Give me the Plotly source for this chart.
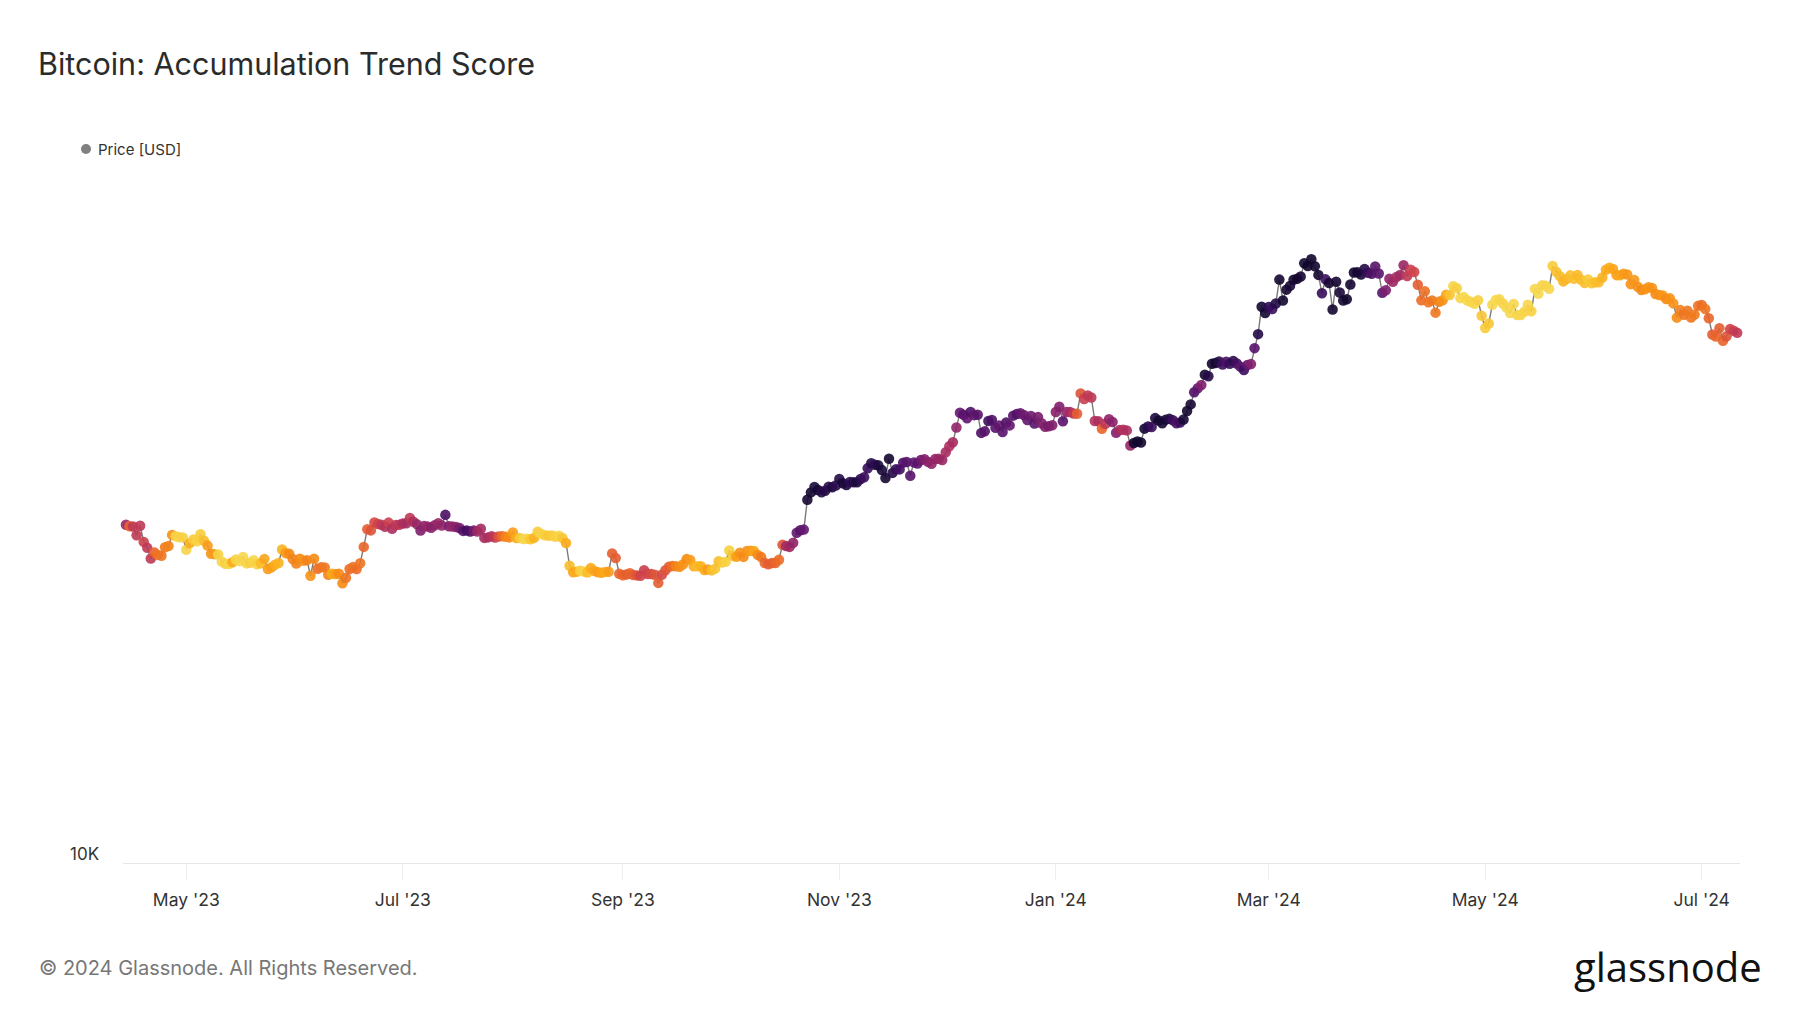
import pandas as pd
import plotly.graph_objects as go

# Daily BTC price (USD) and Accumulation Trend Score, 2023-04-13 .. 2024-07-11
apr23_price = [30400, 30480, 30320, 30300, 29430, 30380, 28800, 28240, 27270, 27820, 27590, 27510, 28300, 28420, 29470, 29340, 29250, 29230]
apr23_score = [0.66, 0.66, 0.40, 0.55, 0.55, 0.55, 0.52, 0.55, 0.55, 0.40, 0.36, 0.36, 0.34, 0.32, 0.28, 0.06, 0.06, 0.08]
may23_price = [28070, 28680, 29030, 28850, 29530, 28900, 28450, 27690, 27660, 27620, 26990, 26800, 26780, 26930, 27170, 27030, 27400, 26830, 26890, 27120, 26750, 26850, 27230, 26330, 26480, 26720, 26870, 28080, 27750, 27700, 27220]
may23_score = [0.06, 0.20, 0.10, 0.08, 0.10, 0.15, 0.25, 0.28, 0.25, 0.06, 0.05, 0.08, 0.05, 0.20, 0.06, 0.05, 0.05, 0.06, 0.08, 0.05, 0.08, 0.15, 0.22, 0.25, 0.24, 0.20, 0.18, 0.18, 0.25, 0.30, 0.32]
jun23_price = [26820, 27250, 27070, 27120, 25760, 27240, 26350, 26500, 26480, 25850, 25940, 25900, 25930, 25130, 25590, 26340, 26510, 26340, 26850, 28330, 30030, 29910, 30700, 30550, 30470, 30270, 30690, 30080, 30450, 30480]
jun23_score = [0.32, 0.30, 0.28, 0.32, 0.28, 0.30, 0.38, 0.36, 0.35, 0.32, 0.20, 0.25, 0.30, 0.30, 0.36, 0.38, 0.36, 0.38, 0.36, 0.40, 0.42, 0.45, 0.48, 0.50, 0.55, 0.58, 0.52, 0.60, 0.55, 0.56]
jul23_price = [30590, 30620, 31160, 30770, 30510, 29900, 30350, 30290, 30170, 30420, 30620, 30390, 31480, 30320, 30300, 30250, 30140, 29860, 29910, 29800, 29910, 29790, 30080, 29180, 29230, 29350, 29210, 29310, 29350, 29280, 29230]
jul23_score = [0.60, 0.62, 0.55, 0.60, 0.66, 0.72, 0.68, 0.66, 0.70, 0.70, 0.66, 0.68, 0.82, 0.72, 0.68, 0.70, 0.74, 0.80, 0.84, 0.82, 0.75, 0.65, 0.62, 0.62, 0.60, 0.58, 0.55, 0.45, 0.38, 0.32, 0.30]
aug23_price = [29710, 29170, 29180, 29070, 29090, 29050, 29180, 29770, 29580, 29430, 29400, 29420, 29280, 29400, 29170, 28700, 26620, 26050, 26100, 26190, 26120, 26040, 26430, 26160, 26060, 26010, 26090, 26100, 27730, 27300, 25930]
aug23_score = [0.25, 0.20, 0.10, 0.05, 0.05, 0.12, 0.18, 0.10, 0.06, 0.08, 0.12, 0.10, 0.08, 0.06, 0.12, 0.20, 0.15, 0.22, 0.20, 0.08, 0.06, 0.15, 0.20, 0.22, 0.25, 0.22, 0.20, 0.25, 0.42, 0.42, 0.40]
sep23_price = [25800, 25870, 25970, 25830, 25790, 25760, 26240, 25900, 25900, 25840, 25160, 25840, 26230, 26540, 26600, 26570, 26530, 26760, 27210, 27130, 26580, 26580, 26580, 26250, 26300, 26220, 26370, 27020, 26910, 26970]
sep23_score = [0.40, 0.42, 0.40, 0.42, 0.45, 0.50, 0.52, 0.50, 0.48, 0.45, 0.42, 0.48, 0.45, 0.42, 0.38, 0.32, 0.30, 0.28, 0.30, 0.25, 0.20, 0.15, 0.18, 0.20, 0.25, 0.15, 0.12, 0.15, 0.10, 0.08]
oct23_price = [27990, 27500, 27430, 27790, 27410, 27950, 27970, 27940, 27590, 27390, 26870, 26760, 26860, 26860, 27160, 28520, 28420, 28330, 28720, 29680, 29920, 29990, 33090, 33900, 34500, 34160, 33910, 34090, 34540, 34480, 34670]
oct23_score = [0.08, 0.12, 0.25, 0.28, 0.30, 0.28, 0.25, 0.22, 0.30, 0.35, 0.40, 0.42, 0.42, 0.40, 0.38, 0.45, 0.62, 0.65, 0.68, 0.78, 0.80, 0.78, 0.95, 0.96, 0.92, 0.95, 0.90, 0.90, 0.88, 0.92, 0.88]
nov23_price = [35440, 34940, 34730, 35080, 35050, 35040, 35420, 35630, 36700, 37310, 37140, 37060, 36480, 35550, 37880, 36150, 36600, 36570, 37390, 37470, 35810, 37420, 37290, 37720, 37800, 37480, 37250, 37830, 37860, 37720]
nov23_score = [0.90, 0.95, 0.92, 0.88, 0.90, 0.92, 0.88, 0.85, 0.86, 0.90, 0.88, 0.92, 0.94, 0.95, 0.95, 0.90, 0.86, 0.84, 0.82, 0.80, 0.80, 0.78, 0.80, 0.76, 0.72, 0.70, 0.68, 0.68, 0.66, 0.66]
dec23_price = [38690, 39460, 39980, 41980, 44080, 43770, 43290, 44170, 43720, 43790, 41240, 41450, 42890, 43020, 41930, 42240, 41360, 42660, 42270, 43650, 43870, 43990, 43740, 43020, 43610, 42520, 43440, 42580, 42070, 42140, 42280]
dec23_score = [0.62, 0.60, 0.62, 0.68, 0.78, 0.80, 0.78, 0.82, 0.78, 0.80, 0.82, 0.80, 0.84, 0.82, 0.80, 0.78, 0.80, 0.82, 0.78, 0.80, 0.82, 0.78, 0.76, 0.78, 0.76, 0.80, 0.74, 0.72, 0.72, 0.74, 0.72]
jan24_price = [44180, 44960, 42850, 44180, 44160, 43970, 43930, 46970, 46120, 46660, 46340, 42890, 42840, 41800, 42510, 43150, 42740, 41260, 41620, 41670, 41580, 39570, 39900, 40080, 39960, 41820, 42120, 42040, 43300, 42950, 42570]
jan24_score = [0.70, 0.72, 0.80, 0.68, 0.62, 0.55, 0.42, 0.45, 0.52, 0.55, 0.55, 0.58, 0.60, 0.40, 0.55, 0.68, 0.70, 0.72, 0.62, 0.58, 0.60, 0.66, 0.95, 0.97, 0.96, 0.95, 0.90, 0.85, 0.92, 0.96, 0.95]
feb24_price = [43080, 43190, 42990, 42580, 42660, 43090, 44330, 45300, 47150, 47770, 48290, 49960, 49700, 51800, 51910, 52160, 51660, 52120, 51780, 52280, 51840, 51300, 50730, 51570, 51730, 54520, 57090, 62500, 61200]
feb24_score = [0.95, 0.90, 0.85, 0.82, 0.85, 0.94, 0.96, 0.95, 0.82, 0.78, 0.72, 0.95, 0.90, 0.95, 0.96, 0.90, 0.85, 0.82, 0.86, 0.88, 0.84, 0.80, 0.85, 0.78, 0.72, 0.80, 0.90, 0.95, 0.95]
mar24_price = [62440, 62030, 63170, 68330, 63800, 66110, 66930, 68300, 68500, 69020, 72120, 71480, 73080, 71400, 69400, 65320, 68390, 67550, 61910, 67850, 65500, 63790, 64040, 67240, 69960, 69990, 69470, 70780, 69890, 69650, 71330]
mar24_score = [0.88, 0.85, 0.90, 0.96, 0.96, 0.95, 0.94, 0.95, 0.96, 0.95, 0.96, 0.97, 0.97, 0.96, 0.95, 0.86, 0.85, 0.95, 0.96, 0.95, 0.94, 0.96, 0.96, 0.95, 0.96, 0.95, 0.94, 0.90, 0.86, 0.82, 0.80]
apr24_price = [69700, 65450, 65980, 68510, 67840, 68900, 69360, 71620, 69150, 70590, 70060, 67190, 63820, 65740, 63430, 63810, 61280, 63510, 63840, 64990, 64930, 66840, 66410, 64280, 64500, 63770, 63460, 63120, 63840, 60640]
apr24_score = [0.80, 0.80, 0.72, 0.68, 0.65, 0.62, 0.64, 0.65, 0.55, 0.52, 0.50, 0.42, 0.38, 0.37, 0.36, 0.35, 0.35, 0.32, 0.28, 0.22, 0.12, 0.06, 0.08, 0.05, 0.04, 0.05, 0.06, 0.05, 0.08, 0.12]
may24_price = [58250, 59120, 62890, 63890, 64030, 63160, 62330, 61190, 63050, 60790, 60790, 61450, 62900, 61550, 66270, 65230, 67050, 66940, 66280, 71450, 70140, 69120, 67930, 68520, 69290, 68510, 69390, 68300, 67570, 68360, 67490]
may24_score = [0.10, 0.12, 0.05, 0.04, 0.05, 0.06, 0.05, 0.04, 0.05, 0.06, 0.05, 0.06, 0.05, 0.08, 0.05, 0.04, 0.05, 0.06, 0.05, 0.10, 0.14, 0.15, 0.18, 0.16, 0.14, 0.14, 0.16, 0.15, 0.14, 0.10, 0.12]
jun24_price = [67710, 67750, 68800, 70560, 71080, 70760, 69340, 69300, 69650, 69500, 67320, 68240, 66750, 66010, 66190, 66640, 66490, 65140, 64960, 64830, 64100, 64250, 63180, 60280, 61800, 60860, 61670, 60320, 60890, 62670]
jun24_score = [0.14, 0.15, 0.18, 0.20, 0.20, 0.22, 0.24, 0.22, 0.25, 0.26, 0.28, 0.26, 0.28, 0.30, 0.28, 0.27, 0.28, 0.30, 0.28, 0.27, 0.30, 0.28, 0.28, 0.30, 0.33, 0.36, 0.35, 0.35, 0.34, 0.36]
jul24_price = [62850, 62030, 60170, 57040, 56660, 58230, 55850, 56700, 58050, 57720, 57340]
jul24_score = [0.38, 0.36, 0.40, 0.42, 0.40, 0.42, 0.40, 0.45, 0.50, 0.52, 0.55]

start_date = "2023-04-13"
ytick_labels = ["10K"]
xtick_format = "%b '%y"

price = (apr23_price + may23_price + jun23_price + jul23_price + aug23_price + sep23_price
         + oct23_price + nov23_price + dec23_price + jan24_price + feb24_price + mar24_price
         + apr24_price + may24_price + jun24_price + jul24_price)
score = (apr23_score + may23_score + jun23_score + jul23_score + aug23_score + sep23_score
         + oct23_score + nov23_score + dec23_score + jan24_score + feb24_score + mar24_score
         + apr24_score + may24_score + jun24_score + jul24_score)
assert len(price) == len(score)
dates = pd.date_range(start_date, periods=len(price), freq="D")

colorscale = [
    [0.00, "#f6e05c"], [0.10, "#f8cc3a"], [0.20, "#fbab1a"], [0.30, "#f68b16"],
    [0.40, "#e9642a"], [0.50, "#d1434a"], [0.60, "#ad2f5e"], [0.70, "#8a226a"],
    [0.78, "#63166f"], [0.85, "#3b0e5e"], [0.92, "#1c0a3e"], [1.00, "#0b0520"],
]

FONT = "Inter"
OFF = 8  # page offset of the figure (default body margin)
W, H = 1800, 1013
# plot area in page pixels: x 123..1740, y 164..863
L = 123 - OFF
R = W - (1740 - OFF)
T = 164 - OFF
B = H - (863 - OFF)
pw, ph = W - L - R, H - T - B

def px_x(x):
    # page pixel -> paper x
    return (x - OFF - L) / pw

def px_y(y):
    # page pixel -> paper y
    return (H - B - (y - OFF)) / ph

fig = go.Figure()
fig.add_trace(go.Scatter(
    x=dates, y=price, mode="lines+markers", name="Price [USD]",
    line=dict(color="#7a7a7a", width=1.4),
    marker=dict(size=10.5, color=score, colorscale=colorscale, cmin=0, cmax=1,
                opacity=0.9, line=dict(width=0), showscale=False),
    cliponaxis=False, showlegend=False,
))

fig.update_layout(
    width=W, height=H,
    margin=dict(l=L, r=R, t=T, b=B),
    paper_bgcolor="white", plot_bgcolor="white",
    font=dict(family=FONT, color="#333333"),
    title=dict(text="Bitcoin: Accumulation Trend Score", x=(38 - OFF) / W, xanchor="left",
               y=1 - (64 - OFF) / H, yanchor="middle",
               font=dict(family=FONT, size=30.5, color="#2b2b2b")),
    xaxis=dict(
        type="date", range=["2023-04-13 04:00", "2024-07-11 19:00"],
        tick0="2023-01-01", dtick="M2", tickformat=xtick_format,
        showgrid=False, zeroline=False,
        showline=True, linecolor="#e6e6e6", linewidth=1,
        ticks="outside", ticklen=16, tickcolor="#eeeeee", tickwidth=1,
        ticklabelstandoff=5,
        tickfont=dict(family=FONT, size=17.5, color="#333333"),
    ),
    yaxis=dict(
        type="log", range=[4, 5], tickvals=[10000, 100000],
        showticklabels=False, showgrid=True, gridcolor="#f0f0f0", gridwidth=1,
        zeroline=False, showline=False,
    ),
    shapes=[dict(type="circle", xref="paper", yref="paper",
                 xsizemode="pixel", ysizemode="pixel",
                 xanchor=px_x(86), yanchor=px_y(149),
                 x0=-5, x1=5, y0=-5, y1=5,
                 fillcolor="#808080", line=dict(width=0))],
    annotations=[
        dict(text="Price [USD]", xref="paper", yref="paper", x=px_x(96), y=px_y(149),
             xanchor="left", yanchor="middle", showarrow=False,
             font=dict(family=FONT, size=15, color="#333333")),
        dict(text=ytick_labels[0], xref="paper", yref="paper", x=px_x(101), y=px_y(854),
             xanchor="right", yanchor="middle", showarrow=False,
             font=dict(family=FONT, size=17, color="#333333")),
        dict(text="© 2024 Glassnode. All Rights Reserved.", xref="paper", yref="paper",
             x=px_x(37), y=px_y(968), xanchor="left", yanchor="middle", showarrow=False,
             font=dict(family=FONT, size=20, color="#777777")),
        dict(text="glassnode", xref="paper", yref="paper",
             x=px_x(1764), y=px_y(966), xanchor="right", yanchor="middle", showarrow=False,
             font=dict(family="Open Sans", size=40, color="#111111", weight=500)),
    ],
)

fig.write_html("out.html")
